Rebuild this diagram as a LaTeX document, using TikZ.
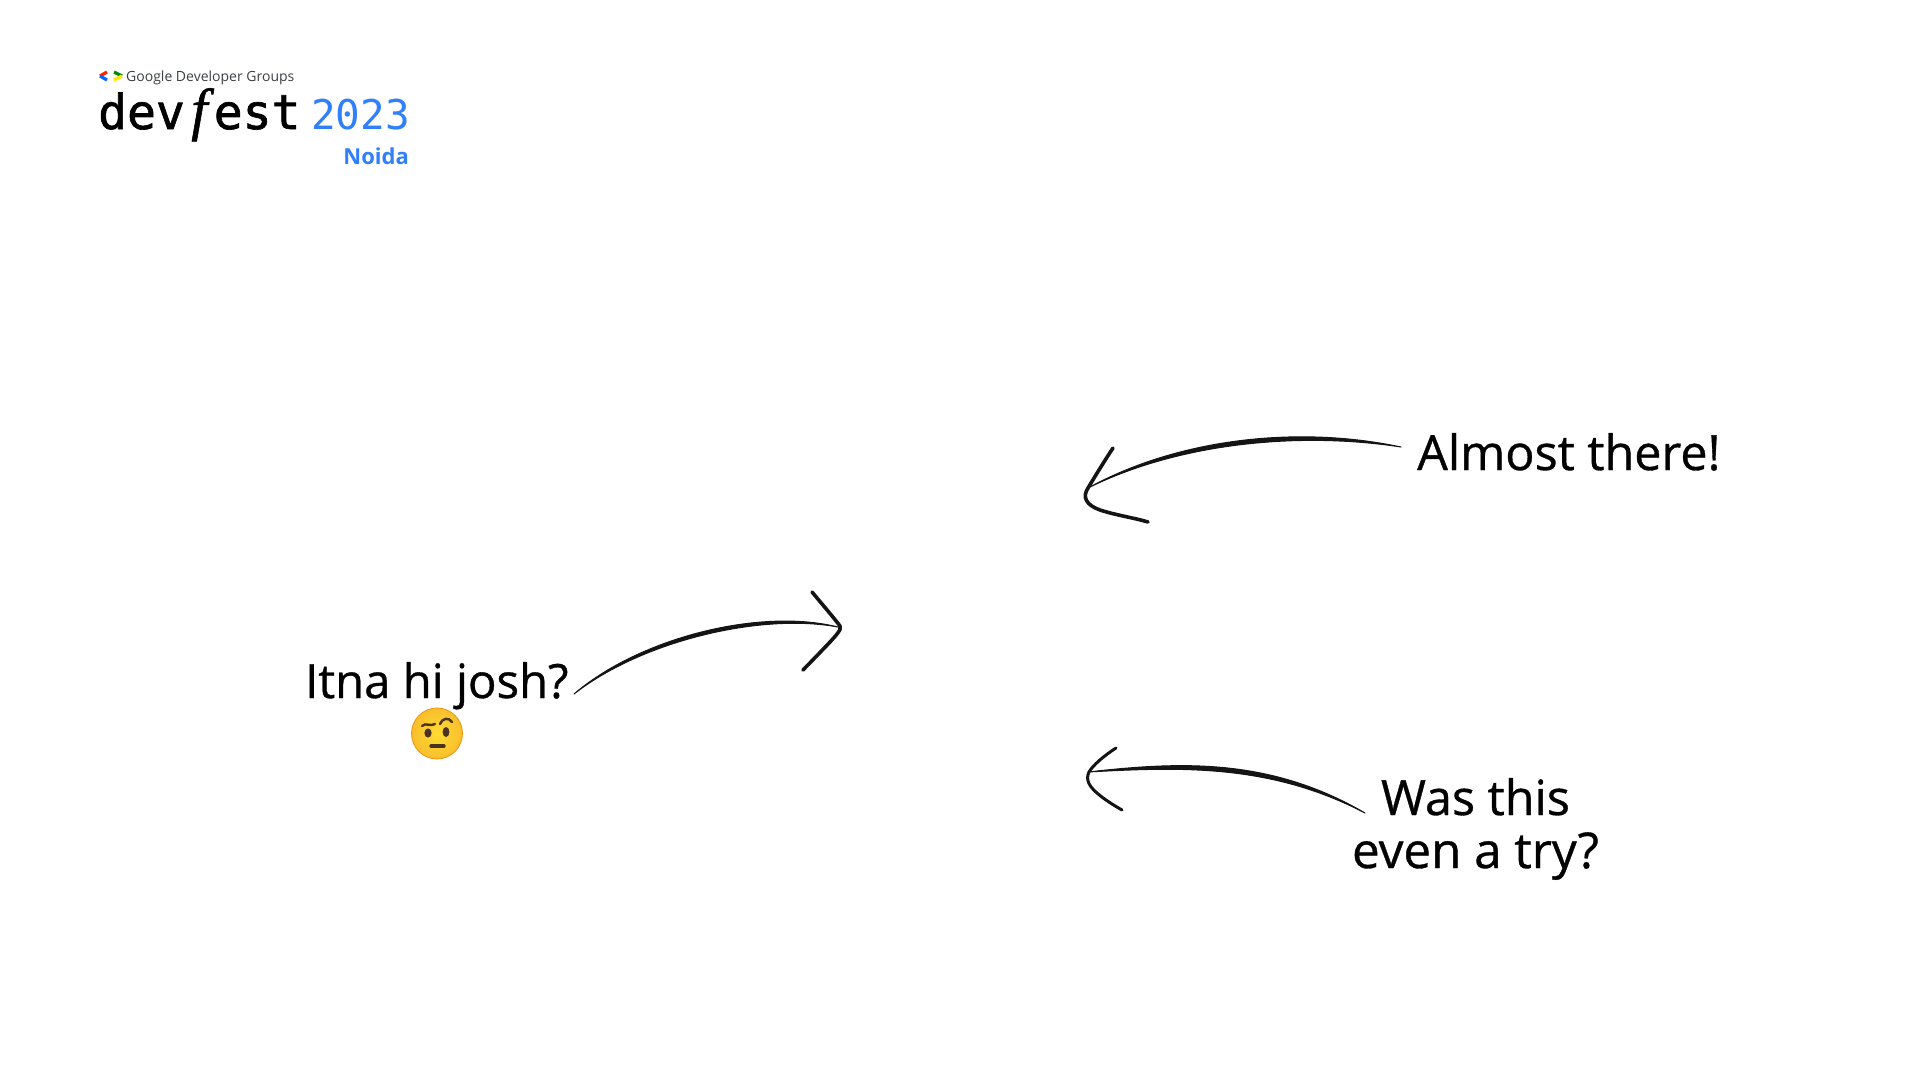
\documentclass[tikz,border=0pt]{standalone}
\usepackage{fontspec}
\setmainfont{Open Sans}
\newfontfamily\labelfam[FakeBold=0.7]{Open Sans}
\newfontfamily\monofam[FakeBold=1.4]{DejaVu Sans Mono}
\newfontfamily\yearfam{DejaVu Sans Mono}
\newfontfamily\curlyf[FakeBold=1.0]{Liberation Serif Italic}
\definecolor{gblue}{HTML}{2F80FA}
\definecolor{gdark}{HTML}{3C4043}
\definecolor{facein}{HTML}{FFDD33}
\definecolor{faceout}{HTML}{F9BE2C}
\definecolor{faceedge}{HTML}{E8950F}
\definecolor{facedark}{HTML}{4A3320}
\tikzset{
  label/.style={font=\labelfam\fontsize{48}{53}\selectfont, text=black, inner sep=0pt, align=center},
  shaft/.style={fill=black!92, draw=black!92, line width=1pt, line join=round},
  head/.style={draw=black!92, line width=3.6pt, line cap=round, line join=round},
}
\begin{document}
\begin{tikzpicture}[x=1pt,y=-1pt]
\useasboundingbox (0,0) rectangle (1920,1080);
\fill[fill=white] (0,0) rectangle (1920,1080);
% logo
\draw[line width=3.2pt,color=red!75!orange] (107,72) -- (100,76);
\draw[line width=3.2pt,color=blue!60!cyan] (100,76) -- (107,80);
\draw[line width=3.2pt,color=green!55!black] (114,72) -- (122,76);
\draw[line width=3.2pt,color=yellow!90!orange] (122,76) -- (114,80);
\node[anchor=base west,inner sep=0pt,text=gdark,font=\fontsize{14}{14}\selectfont] (ggroups) at (126,81.5) {Google Developer Groups};
\node[anchor=base west,inner sep=0pt,text=black,font=\monofam\fontsize{48}{48}\selectfont] (devfest) at (98,129) {dev\makebox[28.9pt]{\curlyf\fontsize{58}{58}\selectfont f}est};
\node[anchor=base west,inner sep=0pt,text=gblue,font=\yearfam\fontsize{41}{41}\selectfont] (yr) at (311,129) {2023};
\node[anchor=base east,inner sep=0pt,text=gblue,font=\bfseries\fontsize{22}{22}\selectfont] (noida) at (409,164) {Noida};
% labels
\node[label,anchor=base west] (almost) at (1417,470) {\fontsize{48.5}{53}\selectfont Almost there!};
\node[label,anchor=base west] (itna) at (305,698) {\fontsize{47.3}{53}\selectfont Itna hi josh?};
\node[label,anchor=base] (was) at (1475.5,815) {\fontsize{48.5}{53}\selectfont Was this};
\node[label,anchor=base] (even) at (1475.5,868) {\fontsize{49.3}{53}\selectfont even a try?};
% emoji
\shade[inner color=facein, outer color=faceout, draw=faceedge, line width=.8pt] (437,733.5) circle (25.5);
\fill[facedark] (428,733) ellipse (3.6 and 4.6);
\fill[facedark] (446,732) ellipse (3.4 and 5);
\draw[facedark,line width=3.4pt,line cap=round] (431,746) -- (444,746);
\draw[facedark,line width=2.4pt,line cap=round] (422,726) .. controls (426,722) and (430,727) .. (435,724);
\draw[facedark,line width=2.4pt,line cap=round] (440,724) .. controls (442,718) and (449,717) .. (452,722);
% arrows
\coordinate (a1s) at (574,694); \coordinate (a1t) at (838,627);
\coordinate (a2s) at (1401,447); \coordinate (a2t) at (1088,488);
\coordinate (a3s) at (1365,813); \coordinate (a3t) at (1088,772);
\fill[shaft] (a1s) .. controls (640,637.5) and (760,607.5) .. (a1t) .. controls (760,612.5) and (641,641.5) .. (a1s) -- cycle;
\draw[head] (812,592) .. controls (822,604) and (834,618) .. (840,626) .. controls (842,630) and (838,634) .. (803,670);
\fill[shaft] (a2s) .. controls (1300,425.5) and (1180,437.5) .. (a2t) .. controls (1180,442.5) and (1300,431.5) .. (a2s) -- cycle;
\draw[head] (1113,448) .. controls (1105,460) and (1094,478) .. (1088,488) .. controls (1082,497) and (1086,505) .. (1100,510) .. controls (1115,515) and (1135,518) .. (1148,522);
\fill[shaft] (a3s) .. controls (1270,757.5) and (1180,761.5) .. (a3t) .. controls (1180,767) and (1270,763.5) .. (a3s) -- cycle;
\draw[head,line width=3pt] (1116,748) .. controls (1105,755) and (1093,765) .. (1089,772) .. controls (1085,780) and (1090,787) .. (1097,793) .. controls (1105,800) and (1115,806) .. (1122,810);
\end{tikzpicture}
\end{document}
